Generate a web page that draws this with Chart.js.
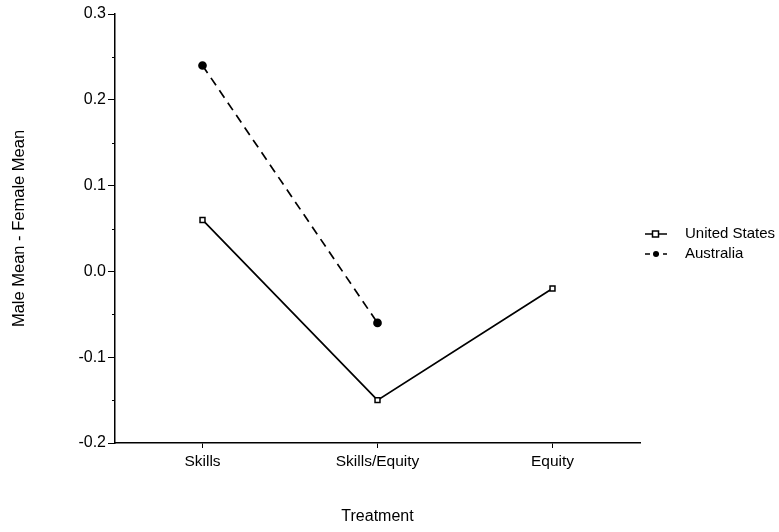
<!DOCTYPE html>
<html lang="en">
  <head>
    <meta charset="UTF-8" />
    <title>Male Mean - Female Mean by Treatment</title>
    <script src="https://cdn.jsdelivr.net/npm/chart.js@4"></script>
    <style>
      html,
      body {
        margin: 0;
        background: #fff;
      }
      canvas {
        display: block;
      }
    </style>
  </head>
  <body>
    <canvas id="diffChart" width="779" height="532"></canvas>

    <script>
      const treatments = ["Skills", "Skills/Equity", "Equity"];
      const unitedStates = [0.06, -0.15, -0.02];
      const australia = [0.24, -0.06, null];
      const yTicks = [-0.2, -0.1, 0.0, 0.1, 0.2, 0.3];
      const yMinorTicks = [-0.15, -0.05, 0.05, 0.15, 0.25];
      const FONT = "'Liberation Sans', Arial, sans-serif";

      // minor ticks on the y axis + the little line/marker legend on the right
      const extras = {
        id: "extras",
        afterDraw(chart) {
          const ctx = chart.ctx;
          const y = chart.scales.y;
          ctx.save();
          ctx.strokeStyle = "#000";
          ctx.lineWidth = 1;
          yMinorTicks.forEach((v) => {
            const py = Math.round(y.getPixelForValue(v)) + 0.5;
            ctx.beginPath();
            ctx.moveTo(y.right - 3, py);
            ctx.lineTo(y.right, py);
            ctx.stroke();
          });

          // legend
          const items = [
            { label: "United States", dash: [], marker: "square", yy: 234 },
            { label: "Australia", dash: [5, 4], marker: "dot", yy: 254 },
          ];
          items.forEach((it) => {
            ctx.setLineDash(it.dash);
            ctx.lineWidth = 1.5;
            ctx.beginPath();
            ctx.moveTo(645, it.yy);
            ctx.lineTo(667, it.yy);
            ctx.stroke();
            ctx.setLineDash([]);
            if (it.marker === "square") {
              ctx.fillStyle = "#fff";
              ctx.fillRect(652.5, it.yy - 3, 6, 6);
              ctx.strokeRect(652.5, it.yy - 3, 6, 6);
            } else {
              ctx.fillStyle = "#000";
              ctx.beginPath();
              ctx.arc(656, it.yy, 3, 0, Math.PI * 2);
              ctx.fill();
            }
            ctx.fillStyle = "#000";
            ctx.font = "15px " + FONT;
            ctx.textBaseline = "middle";
            ctx.fillText(it.label, 685, it.yy);
          });
          ctx.restore();
        },
      };

      new Chart(document.getElementById("diffChart"), {
        type: "line",
        data: {
          labels: treatments,
          datasets: [
            {
              label: "United States",
              data: unitedStates,
              borderColor: "#000",
              borderWidth: 1.7,
              pointStyle: "rect",
              pointRadius: 3.5,
              pointBackgroundColor: "#fff",
              pointBorderColor: "#000",
              pointBorderWidth: 1.5,
              tension: 0,
            },
            {
              label: "Australia",
              data: australia,
              borderColor: "#000",
              borderWidth: 1.7,
              borderDash: [9, 6],
              pointStyle: "circle",
              pointRadius: 3.5,
              pointBackgroundColor: "#000",
              pointBorderColor: "#000",
              tension: 0,
              spanGaps: false,
            },
          ],
        },
        options: {
          responsive: false,
          animation: false,
          layout: { padding: { top: 14, right: 139, left: 0, bottom: 0 } },
          plugins: {
            legend: { display: false },
            tooltip: { enabled: false },
          },
          scales: {
            x: {
              offset: true,
              border: { color: "#000", width: 1.5 },
              grid: {
                drawOnChartArea: false,
                tickLength: 5,
                tickColor: "#000",
                offset: false,
              },
              ticks: {
                color: "#000",
                font: { family: FONT, size: 15.5 },
                padding: 4,
              },
              title: {
                display: true,
                text: "Treatment",
                color: "#000",
                font: { family: FONT, size: 16 },
                padding: { top: 0, bottom: 6 },
              },
              afterFit(scale) {
                scale.height = 89;
              },
            },
            y: {
              min: -0.2,
              max: 0.3,
              afterBuildTicks(scale) {
                scale.ticks = yTicks.map((v) => ({ value: v }));
              },
              border: { color: "#000", width: 1.5 },
              grid: {
                drawOnChartArea: false,
                tickLength: 7,
                tickColor: "#000",
              },
              ticks: {
                color: "#000",
                font: { family: FONT, size: 16 },
                padding: 2,
                callback: (v) => Number(v).toFixed(1),
              },
              title: {
                display: true,
                text: "Male Mean - Female Mean",
                color: "#000",
                font: { family: FONT, size: 16.5 },
                padding: { top: 10, bottom: 0 },
              },
              afterFit(scale) {
                scale.width = 115;
              },
            },
          },
        },
        plugins: [extras],
      });
    </script>
  </body>
</html>
